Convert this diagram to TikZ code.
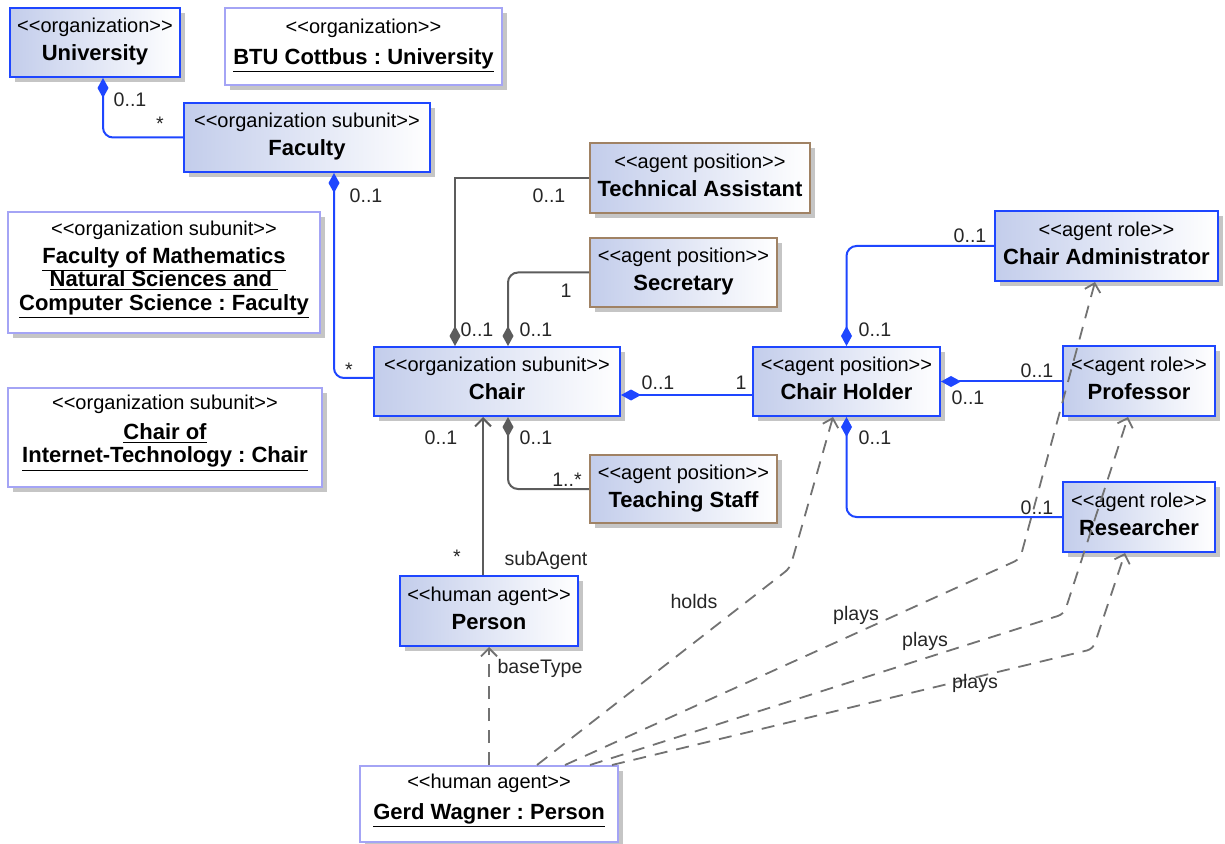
\documentclass[tikz,border=0pt]{standalone}
\usepackage{fontspec}
\setmainfont{Liberation Sans}
\usepackage{xcolor}
\definecolor{umlBlue}{HTML}{1E46FF}
\definecolor{posBrown}{HTML}{A08264}
\definecolor{instBorder}{HTML}{A4A4F5}
\definecolor{boxShade}{HTML}{C3CDEB}
\definecolor{lineGray}{HTML}{5C5C5C}
\definecolor{dashGray}{HTML}{727272}
\usetikzlibrary{arrows.meta,positioning,shadows,calc}
\frenchspacing
\newcommand{\stereo}[1]{<\kern0pt<#1>\kern0pt>}
\newcommand{\cname}[1]{{\fontsize{11}{14}\selectfont\bfseries #1}}
\newcommand{\iname}[1]{{\fontsize{11}{14}\selectfont\bfseries\underline{#1}}}
\tikzset{%
  umlBox/.style={%
    rectangle,
    line width=1pt,
    inner sep=0pt,
    align=center,
    font=\fontsize{10}{14}\selectfont,
    drop shadow={shadow xshift=2.5pt,shadow yshift=-2.5pt,fill=black!45,opacity=0.5}
  },
  classBox/.style={%
    umlBox,
    draw=umlBlue,
    left color=boxShade,
    right color=white,
    text depth=3pt
  },
  positionBox/.style={%
    classBox,
    draw=posBrown
  },
  instanceBox/.style={%
    umlBox,
    draw=instBorder,
    fill=white
  },
  multLabel/.style={%
    font=\fontsize{9.8}{12}\selectfont,
    inner sep=0pt,
    text=black!85
  },
  compBlue/.style={%
    {Diamond[length=10pt,width=5.5pt]}-,
    draw=umlBlue,
    line width=1pt,
    rounded corners=5pt
  },
  compGray/.style={%
    {Diamond[length=10pt,width=5.5pt]}-,
    draw=lineGray,
    line width=1pt,
    rounded corners=5pt
  },
  assocArrow/.style={%
    -{Straight Barb[length=4pt,width=8pt]},
    draw=lineGray,
    line width=1pt
  },
  depArrow/.style={%
    -{Straight Barb[length=4pt,width=8pt]},
    draw=dashGray,
    line width=0.9pt,
    dash pattern=on 6.5pt off 4.5pt,
    rounded corners=3pt
  }
}

\begin{document}
\begin{tikzpicture}[x=0.5pt,y=-0.5pt]
\useasboundingbox (0,0) rectangle (1225,844);

% organizations and subunits
\node[classBox, minimum width=85pt, minimum height=34.5pt] (uni) at (95,42.5) {\stereo{organization}\\\cname{University}};
\node[instanceBox, minimum width=138.5pt, minimum height=38.5pt, text depth=5pt] (btu) at (363.5,46.5) {\stereo{organization}\\[1.5pt]\iname{BTU Cottbus : University}};
\node[classBox, minimum width=123pt, minimum height=34.5pt] (fac) at (307,137.5) {\stereo{organization subunit}\\\cname{Faculty}};
\node[instanceBox, minimum width=156pt, minimum height=60.5pt, text depth=7pt] (facMath) at (164,272.5) {\stereo{organization subunit}\\\iname{Faculty of Mathematics}\\[-2.3pt]\iname{Natural Sciences and\ }\\[-2.3pt]\iname{Computer Science : Faculty}};
\node[instanceBox, minimum width=157pt, minimum height=49.5pt, text depth=9pt] (chairInst) at (165,437.5) {\stereo{organization subunit}\\[1pt]\iname{Chair of}\\[-2.3pt]\iname{Internet-Technology : Chair}};
\node[classBox, minimum width=123pt, minimum height=34.5pt] (chair) at (497,381.5) {\stereo{organization subunit}\\\cname{Chair}};

% agent positions
\node[positionBox, minimum width=110pt, minimum height=35pt] (techAss) at (700,178) {\stereo{agent position}\\\cname{Technical Assistant}};
\node[positionBox, minimum width=93.5pt, minimum height=34.5pt] (secr) at (683.5,272.5) {\stereo{agent position}\\\cname{Secretary}};
\node[positionBox, minimum width=93.5pt, minimum height=34pt] (teach) at (683.5,489) {\stereo{agent position}\\\cname{Teaching Staff}};
\node[classBox, minimum width=93.5pt, minimum height=34.5pt] (holder) at (846.5,381.5) {\stereo{agent position}\\\cname{Chair Holder}};

% agent roles
\node[classBox, minimum width=111.5pt, minimum height=35pt] (admin) at (1106.5,246) {\stereo{agent role}\\\cname{Chair Administrator}};
\node[classBox, minimum width=76pt, minimum height=35pt] (prof) at (1139,381) {\stereo{agent role}\\\cname{Professor}};
\node[classBox, minimum width=76pt, minimum height=35pt] (resea) at (1139,517) {\stereo{agent role}\\\cname{Researcher}};

% human agents
\node[classBox, minimum width=89pt, minimum height=35pt] (person) at (489,611) {\stereo{human agent}\\\cname{Person}};
\node[instanceBox, minimum width=129pt, minimum height=38pt, text depth=7.5pt] (gerd) at (489,804) {\stereo{human agent}\\[1.5pt]\iname{Gerd Wagner : Person}};

% compositions
\draw[compBlue] ([xshift=4pt]uni.south) |- (fac.west)
  node[multLabel] at (130,100) {0..1} node[multLabel] at (160,124) {*};
\draw[compBlue] ([xshift=13.5pt]fac.south) |- ([yshift=1.75pt]chair.west)
  node[multLabel] at (366,196) {0..1} node[multLabel] at (349,370) {*};
\draw[compGray, sharp corners] ([xshift=-21pt]chair.north) |- (techAss.west)
  node[multLabel] at (549,196) {0..1} node[multLabel] at (477,330) {0..1};
\draw[compGray] ([xshift=5.5pt]chair.north) |- (secr.west)
  node[multLabel] at (566,291) {1} node[multLabel] at (536,330) {0..1};
\draw[compGray] ([xshift=5.5pt]chair.south) |- (teach.west)
  node[multLabel] at (536,438) {0..1} node[multLabel] at (567,480) {1..*};
\draw[compBlue] ([yshift=-6.75pt]chair.east) -- ([yshift=-6.75pt]holder.west)
  node[multLabel] at (658,383) {0..1} node[multLabel] at (741,383) {1};
\draw[compBlue] (holder.north) |- (admin.west)
  node[multLabel] at (875,330) {0..1} node[multLabel] at (970,236) {0..1};
\draw[compBlue] (holder.east) -- (holder.east -| prof.west)
  node[multLabel] at (1037,371) {0..1} node[multLabel] at (968,398) {0..1};
\draw[compBlue] (holder.south) |- (resea.west)
  node[multLabel] at (875,438) {0..1} node[multLabel] at (1037,508) {0..1};

% sub agent
\draw[assocArrow] ([xshift=-3pt]person.north) -- ([xshift=-7pt]chair.south)
  node[multLabel] at (441,438) {0..1} node[multLabel] at (457,557) {*}
  node[multLabel] at (546,560) {subAgent};

% dependencies
\coordinate (holdsBend) at (790,568);
\coordinate (playsBendA) at (1020,559);
\coordinate (playsBendB) at (1064,614);
\coordinate (playsBendC) at (1093,649);
\draw[depArrow] (gerd.north) -- (person.south)
  node[multLabel] at (540,668) {baseType};
\draw[depArrow] ([xshift=24pt]gerd.north) -- (holdsBend) -- ([xshift=-6.75pt]holder.south)
  node[multLabel] at (694,601) {holds};
\draw[depArrow] ([xshift=38pt]gerd.north) -- (playsBendA) -- ([xshift=-5.75pt]admin.south)
  node[multLabel] at (856,615) {plays};
\draw[depArrow] ([xshift=50.5pt]gerd.north) -- (playsBendB) -- ([xshift=-5.5pt]prof.south)
  node[multLabel] at (925,641) {plays};
\draw[depArrow] ([xshift=61.5pt]gerd.north) -- (playsBendC) -- ([xshift=-7pt]resea.south)
  node[multLabel] at (975,683) {plays};
\end{tikzpicture}
\end{document}
